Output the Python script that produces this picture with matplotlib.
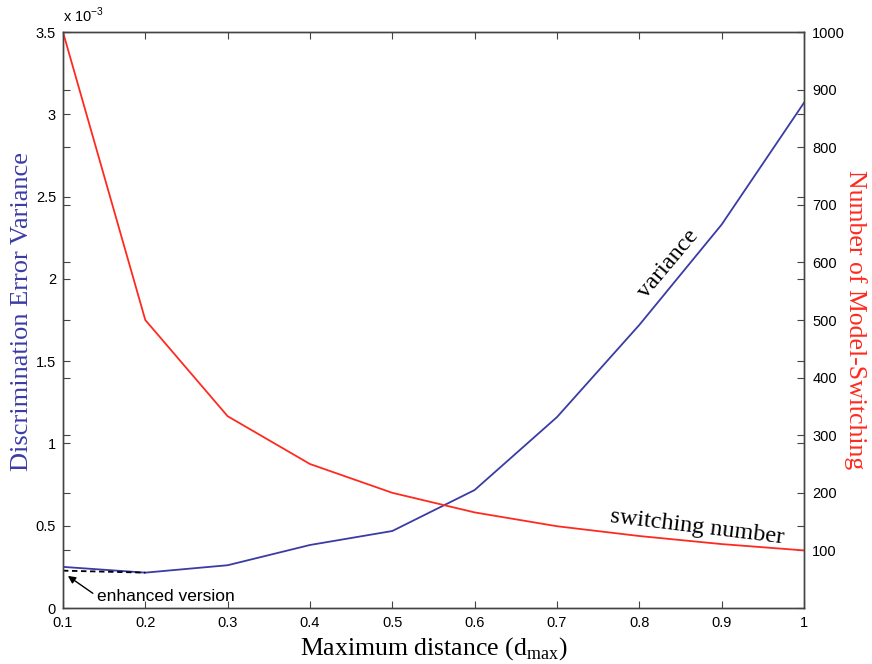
import matplotlib
matplotlib.use("Agg")
import matplotlib.pyplot as plt

# Data
d_max = [0.1, 0.2, 0.3, 0.4, 0.5, 0.6, 0.7, 0.8, 0.9, 1.0]
variance_e3 = [0.25, 0.215, 0.26, 0.383, 0.468, 0.717, 1.16, 1.72, 2.33, 3.07]
enhanced_x = [0.1, 0.2]
enhanced_e3 = [0.227, 0.215]
switching = [1000, 500, 333, 250, 200, 166, 142, 125, 111, 100]
left_ticks = [0, 0.5, 1, 1.5, 2, 2.5, 3, 3.5]
left_labels = ["0", "0.5", "1", "1.5", "2", "2.5", "3", "3.5"]
right_ticks = [100, 200, 300, 400, 500, 600, 700, 800, 900, 1000]
x_ticks = [0.1, 0.2, 0.3, 0.4, 0.5, 0.6, 0.7, 0.8, 0.9, 1.0]
x_labels = ["0.1", "0.2", "0.3", "0.4", "0.5", "0.6", "0.7", "0.8", "0.9", "1"]

BLUE = "#3b3ba6"
RED = "#ff2a1f"
AX = "#444444"
SANS = "Liberation Sans"
SERIF = "Liberation Serif"

fig = plt.figure(figsize=(8.72, 6.64), dpi=100)
ax1 = fig.add_axes([0.0722, 0.0843, 0.8498, 0.8675])
ax2 = ax1.twinx()

ax1.plot(d_max, variance_e3, color=BLUE, lw=1.3)
ax1.plot(enhanced_x, enhanced_e3, color="black", lw=1.3, ls=(0, (3, 2)))
ax2.plot(d_max, switching, color=RED, lw=1.3)

ax1.set_xlim(0.1, 1.0)
ax1.set_ylim(0, 3.5)
ax2.set_ylim(0, 1000)
ax1.set_xticks(x_ticks)
ax1.set_xticklabels(x_labels, fontfamily=SANS, fontsize=10.5)
ax1.set_yticks(left_ticks)
ax1.set_yticklabels(left_labels, fontfamily=SANS, fontsize=10.5)
ax2.set_yticks(right_ticks)
ax2.set_yticklabels([str(t) for t in right_ticks], fontfamily=SANS, fontsize=10.5)

ax1.tick_params(direction="in", top=True, right=True, length=5, color=AX)
ax1.tick_params(axis="x", pad=6)
ax1.tick_params(axis="y", pad=5)
ax2.tick_params(direction="in", left=True, right=True, length=5, color=AX, pad=6)
for a in (ax1, ax2):
    for s in a.spines.values():
        s.set_color(AX)
        s.set_linewidth(1.0)

ax1.set_ylabel("Discrimination Error Variance", color=BLUE, fontfamily=SERIF, fontsize=19,
               va="center")
ax1.yaxis.set_label_coords(-0.055, 0.514)
ax2.set_ylabel("Number of Model-Switching", color=RED, fontfamily=SERIF, fontsize=18.5,
               rotation=270, va="center")
ax2.yaxis.set_label_coords(1.069, 0.5)
ax1.set_xlabel("Maximum distance (d$_\\mathregular{max}$)", fontfamily=SERIF, fontsize=18.5,
               va="center")
ax1.xaxis.set_label_coords(0.5, -0.071)

ax1.text(0.0, 1.012, "x 10$^{\\mathregular{-3}}$", transform=ax1.transAxes, fontfamily=SANS, fontsize=10.5, ha="left", va="bottom")

ax1.text(0.835, 2.09, "variance", rotation=50, fontfamily=SERIF, fontsize=17.5, ha="center", va="center")
ax2.text(0.870, 140, "switching number", rotation=-7, fontfamily=SERIF, fontsize=17.5, ha="center", va="center")
ax1.annotate("enhanced version", xy=(0.106, 0.195), xytext=(0.141, 0.073),
             fontfamily=SANS, fontsize=12.5, ha="left", va="center",
             arrowprops=dict(arrowstyle="-|>", color="black", lw=1.0, mutation_scale=11,
                             shrinkA=1, shrinkB=0, relpos=(0, 0.5)))

fig.savefig("out.png", dpi=100)
